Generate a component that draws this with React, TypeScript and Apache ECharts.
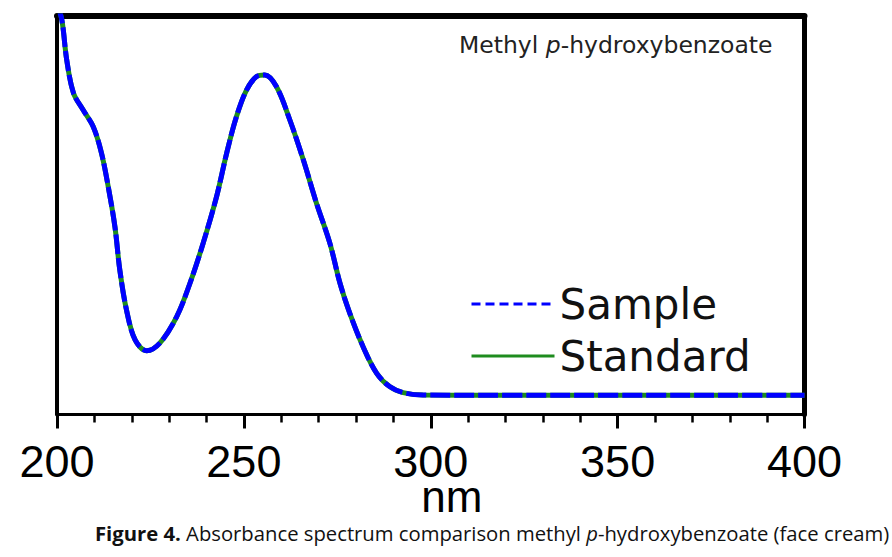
import React, { useEffect, useRef } from "react";
import * as echarts from "echarts";

// Wavelength (nm)
const wavelengths = [
  200, 201.3, 202.6, 204.4, 207.0, 209.7, 211.9, 213.7, 215.5, 216.8, 218.6,
  220.9, 224.0, 227.5, 232.0, 235.6, 239.1, 242.7, 245.4, 248.0, 250.7, 253.4,
  255.6, 258.7, 262.3, 265.9, 269.4, 273.0, 275.7, 278.3, 281.9, 285.5, 289.0,
  292.6, 297.9, 320, 350, 380, 400,
];

// Absorbance (arbitrary units) - standard
const standardAbs = [
  1.03, 0.99, 0.89, 0.807, 0.764, 0.722, 0.656, 0.572, 0.471, 0.363, 0.262,
  0.187, 0.16, 0.179, 0.245, 0.33, 0.43, 0.547, 0.656, 0.747, 0.814, 0.848,
  0.852, 0.823, 0.739, 0.639, 0.531, 0.43, 0.33, 0.255, 0.17, 0.104, 0.07,
  0.055, 0.049, 0.048, 0.048, 0.048, 0.048,
];

// Absorbance (arbitrary units) - sample (face cream)
const sampleAbs = [
  1.03, 0.99, 0.89, 0.807, 0.764, 0.722, 0.656, 0.572, 0.471, 0.363, 0.262,
  0.187, 0.16, 0.179, 0.245, 0.33, 0.43, 0.547, 0.656, 0.747, 0.814, 0.848,
  0.852, 0.823, 0.739, 0.639, 0.531, 0.43, 0.33, 0.255, 0.17, 0.104, 0.07,
  0.055, 0.049, 0.048, 0.048, 0.048, 0.048,
];

const xTicks = [200, 250, 300, 350, 400];
const seriesNames = ["Sample", "Standard"];
const annotation = ["Methyl ", "p", "-hydroxybenzoate"];
const captionParts = ["Figure 4.", " Absorbance spectrum comparison methyl ", "p", "-hydroxybenzoate (face cream)"];

export default function App() {
  const ref = useRef<HTMLDivElement>(null);

  useEffect(() => {
    if (!ref.current) return;
    const chart = echarts.init(ref.current, null, { renderer: "svg" });
    const std = wavelengths.map((w, i) => [w, standardAbs[i]]);
    const smp = wavelengths.map((w, i) => [w, sampleAbs[i]]);
    const blue = "#0000ff";
    const green = "#1e8c1e";

    chart.setOption({
      animation: false,
      backgroundColor: "#ffffff",
      grid: { left: 57, right: 87.5, top: 16, bottom: 142.5, containLabel: false },
      legend: {
        orient: "vertical",
        left: 465,
        top: 277,
        itemWidth: 83,
        itemHeight: 14,
        itemGap: 8,
        textStyle: {
          fontFamily: "DejaVu Sans",
          fontSize: 42,
          lineHeight: 44,
          color: "#111",
        },
        data: [
          { name: seriesNames[0], lineStyle: { color: blue, width: 3, type: [9, 5] }, itemStyle: { opacity: 0 } },
          { name: seriesNames[1], lineStyle: { color: green, width: 3, type: "solid" }, itemStyle: { opacity: 0 } },
        ],
        selectedMode: false,
      },
      xAxis: [
        {
          type: "value",
          min: 200,
          max: 400,
          interval: 50,
          position: "bottom",
          name: "nm",
          nameLocation: "middle",
          nameMoveOverlap: false,
          nameGap: 67,
          nameTextStyle: {
            fontFamily: "Liberation Sans",
            fontSize: 44,
            lineHeight: 30,
            color: "#000",
            padding: [0, 0, 0, 42],
          },
          axisLine: { show: true, onZero: false, lineStyle: { color: "#000", width: 3 } },
          axisTick: { show: true, length: 14, inside: false, lineStyle: { color: "#000", width: 3 } },
          minorTick: { show: true, splitNumber: 5, length: 8, lineStyle: { color: "#000", width: 2.5 } },
          splitLine: { show: false },
          axisLabel: {
            show: true,
            margin: 30,
            lineHeight: 34,
            fontFamily: "Liberation Sans",
            fontSize: 45,
            color: "#000",
            formatter: (v: number) => (xTicks.includes(v) ? String(v) : ""),
          },
        },
        {
          type: "value",
          min: 200,
          max: 400,
          position: "top",
          axisLine: { show: true, onZero: false, lineStyle: { color: "#000", width: 6 } },
          axisTick: { show: false },
          axisLabel: { show: false },
          splitLine: { show: false },
        },
      ],
      yAxis: [
        {
          type: "value",
          min: 0,
          max: 1,
          position: "left",
          axisLine: { show: true, onZero: false, lineStyle: { color: "#000", width: 4 } },
          axisTick: { show: false },
          axisLabel: { show: false },
          splitLine: { show: false },
        },
        {
          type: "value",
          min: 0,
          max: 1,
          position: "right",
          axisLine: { show: true, onZero: false, lineStyle: { color: "#000", width: 5 } },
          axisTick: { show: false },
          axisLabel: { show: false },
          splitLine: { show: false },
        },
      ],
      series: [
        {
          name: seriesNames[1],
          type: "line",
          data: std,
          smooth: 0.35,
          symbol: "none",
          clip: true,
          lineStyle: { color: green, width: 5, type: "solid" },
          itemStyle: { color: green },
          z: 2,
        },
        {
          name: seriesNames[0],
          type: "line",
          data: smp,
          smooth: 0.35,
          symbol: "none",
          clip: true,
          lineStyle: { color: blue, width: 5, type: [20, 4] },
          itemStyle: { color: blue },
          z: 3,
        },
      ],
      graphic: [
        {
          type: "text",
          left: 459,
          top: 33,
          style: {
            text: `${annotation[0]}{i|${annotation[1]}}${annotation[2]}`,
            fontFamily: "DejaVu Sans",
            fontSize: 23.5,
            fill: "#222",
            rich: {
              i: { fontFamily: "DejaVu Sans", fontSize: 23.5, fontStyle: "italic", fill: "#222" },
            },
          },
        },
        {
          type: "text",
          left: 95,
          top: 523,
          style: {
            text: `{b|${captionParts[0]}}${captionParts[1]}{i|${captionParts[2]}}${captionParts[3]}`,
            fontFamily: "Open Sans",
            fontSize: 20.25,
            fill: "#111",
            rich: {
              b: { fontFamily: "Open Sans", fontSize: 20.25, fontWeight: "bold", fill: "#111" },
              i: { fontFamily: "Open Sans", fontSize: 20.25, fontStyle: "italic", fill: "#111" },
            },
          },
        },
      ],
    });

    return () => chart.dispose();
  }, []);

  return <div ref={ref} style={{ width: 892, height: 557, position: "absolute", left: 0, top: 0 }} />;
}
